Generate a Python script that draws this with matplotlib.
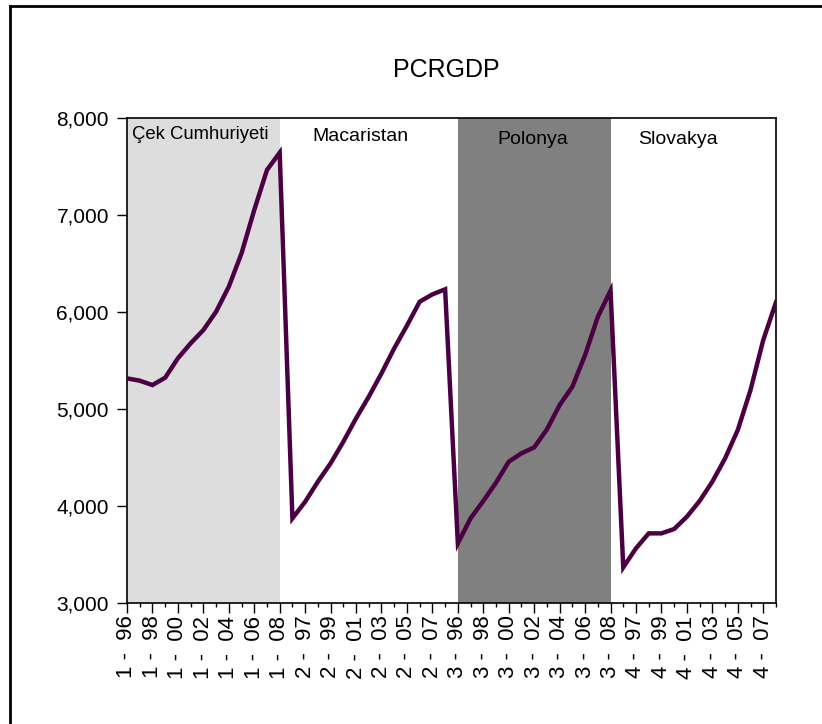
import matplotlib
matplotlib.use("Agg")
import matplotlib.pyplot as plt
from matplotlib.lines import Line2D
from matplotlib.ticker import FuncFormatter

plt.rcParams['font.family'] = ['Liberation Sans', 'DejaVu Sans']

# panel: 4 countries x 13 years (1996-2008)
countries = ['Çek Cumhuriyeti', 'Macaristan', 'Polonya', 'Slovakya']
years = list(range(1996, 2009))

czech = [5316, 5292, 5247, 5323, 5523, 5677, 5814, 6003, 6261, 6605, 7052, 7464, 7643]
hungary = [3873, 4044, 4251, 4440, 4663, 4904, 5127, 5368, 5626, 5860, 6106, 6182, 6234]
poland = [3615, 3873, 4052, 4241, 4457, 4543, 4605, 4790, 5041, 5230, 5557, 5950, 6220]
slovakia = [3368, 3564, 3718, 3718, 3763, 3890, 4052, 4251, 4491, 4784, 5196, 5711, 6100]

pcrgdp = czech + hungary + poland + slovakia
ids = [c + 1 for c in range(len(countries)) for _ in years]
yrs = [y for _ in countries for y in years]
labels = [f"{i} -  {y % 100:02d}" for i, y in zip(ids, yrs)]
x = list(range(len(pcrgdp)))

fig = plt.figure(figsize=(8.22, 7.24), dpi=100)
ax = fig.add_axes([0.1545, 0.1671, 0.7895, 0.6699])

# shaded groups (Czech, Poland)
n = len(years)
ax.axvspan(0, n - 1, color='#dddddd', lw=0, zorder=0)
ax.axvspan(2 * n, 3 * n - 1, color='#808080', lw=0, zorder=0)

ax.plot(x, pcrgdp, color='#4a0042', lw=3.2, solid_joinstyle='miter', zorder=3)

ax.set_xlim(0, len(pcrgdp) - 1)
ax.set_ylim(3000, 8000)
ax.set_yticks([3000, 4000, 5000, 6000, 7000, 8000])
ax.yaxis.set_major_formatter(FuncFormatter(lambda v, p: f"{int(v):,}"))
ax.set_xticks(x[::2])
ax.set_xticklabels(labels[::2], rotation=90, fontsize=16)
ax.set_xticks(x, minor=True)
ax.tick_params(axis='y', labelsize=15, length=7, width=1, pad=6)
ax.tick_params(axis='x', which='major', length=7, width=1, pad=2)
ax.tick_params(axis='x', which='minor', length=3, width=1)
ax.yaxis.set_ticks_position('left')
for s in ax.spines.values():
    s.set_linewidth(1.2)
    s.set_color('black')

# group names
ax.text(0.4, 0.9567, countries[0], transform=ax.get_xaxis_transform(), fontsize=13.3, va='baseline')
ax.text(14.6, 0.9526, countries[1], transform=ax.get_xaxis_transform(), fontsize=14, va='baseline')
ax.text(29.1, 0.9464, countries[2], transform=ax.get_xaxis_transform(), fontsize=14, va='baseline')
ax.text(40.2, 0.9464, countries[3], transform=ax.get_xaxis_transform(), fontsize=14, va='baseline')

fig.text(0.5426, 0.8936, 'PCRGDP', fontsize=18, ha='center', va='baseline')

# outer frame (only left and top edges visible)
fig.add_artist(Line2D([0.0122, 0.0122], [0, 0.9917], transform=fig.transFigure, color='black', lw=2))
fig.add_artist(Line2D([0.0122, 1.0], [0.9917, 0.9917], transform=fig.transFigure, color='black', lw=2))

fig.savefig('out.png', dpi=100)
